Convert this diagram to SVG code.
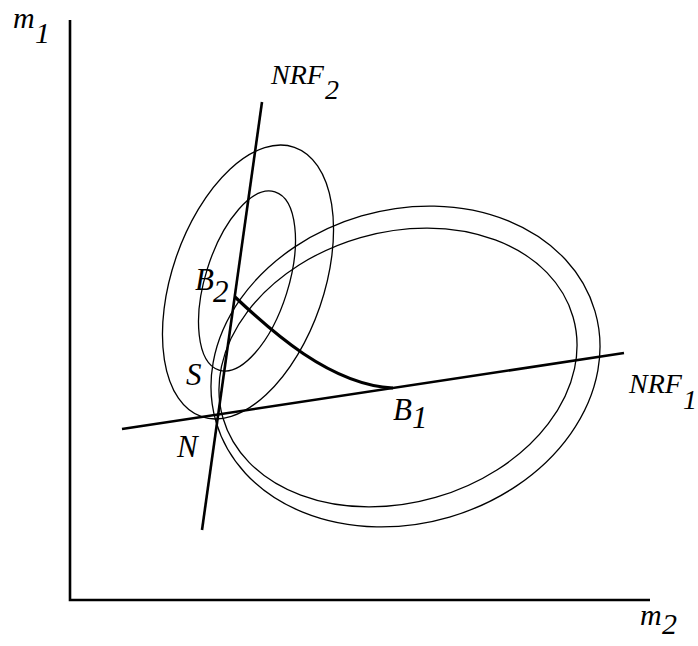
<svg xmlns="http://www.w3.org/2000/svg" width="698" height="646" viewBox="0 0 698 646">
<style>
  .lbl { font-family: "Liberation Serif", "Times New Roman", serif; font-style: italic; fill: #000; }
  .ell { fill: none; stroke: #000; stroke-width: 1.3; }
  .thick { fill: none; stroke: #000; stroke-width: 2.6; stroke-linecap: butt; }
</style>
<rect width="698" height="646" fill="#fff"/>
<g id="axes">
  <path class="thick" d="M70,20 V600 H650"/>
</g>
<g id="indiff-curves">
  <ellipse id="small-outer" class="ell" cx="248" cy="282" rx="76" ry="142.5" transform="rotate(19 248 282)"/>
  <ellipse id="small-inner" class="ell" cx="247" cy="281" rx="41.5" ry="93.4" transform="rotate(17.4 247 281)"/>
  <ellipse id="big-inner" class="ell" cx="398" cy="367.5" rx="182.2" ry="135.3" transform="rotate(-16.1 398 367.5)"/>
  <ellipse id="big-outer" class="ell" cx="405.5" cy="366.5" rx="197.4" ry="156.9" transform="rotate(-16.3 405.5 366.5)"/>
</g>
<g id="connectors">
  <line class="thick" x1="262" y1="102" x2="202" y2="530"/>
  <line class="thick" x1="122" y1="429" x2="624" y2="353"/>
  <path d="M235,297 C270,330 330,385 393,388" fill="none" stroke="#000" stroke-width="3.2"/>
</g>
<g id="labels">
  <text class="lbl" font-size="30" x="13" y="28">m</text>
  <text class="lbl" font-size="30" x="35" y="43">1</text>
  <text class="lbl" font-size="30" x="640" y="625">m</text>
  <text class="lbl" font-size="30" x="662" y="634">2</text>
  <text class="lbl" font-size="28" x="271" y="84">NRF</text>
  <text class="lbl" font-size="28" x="325" y="99">2</text>
  <text class="lbl" font-size="28" x="629" y="393">NRF</text>
  <text class="lbl" font-size="28" x="683" y="409">1</text>
  <text class="lbl" font-size="31" x="195" y="290">B</text>
  <text class="lbl" font-size="31" x="213" y="302">2</text>
  <text class="lbl" font-size="31" x="393" y="420">B</text>
  <text class="lbl" font-size="31" x="412" y="428">1</text>
  <text class="lbl" font-size="31" x="186" y="385">S</text>
  <text class="lbl" font-size="31" x="177" y="457">N</text>
</g>
</svg>
